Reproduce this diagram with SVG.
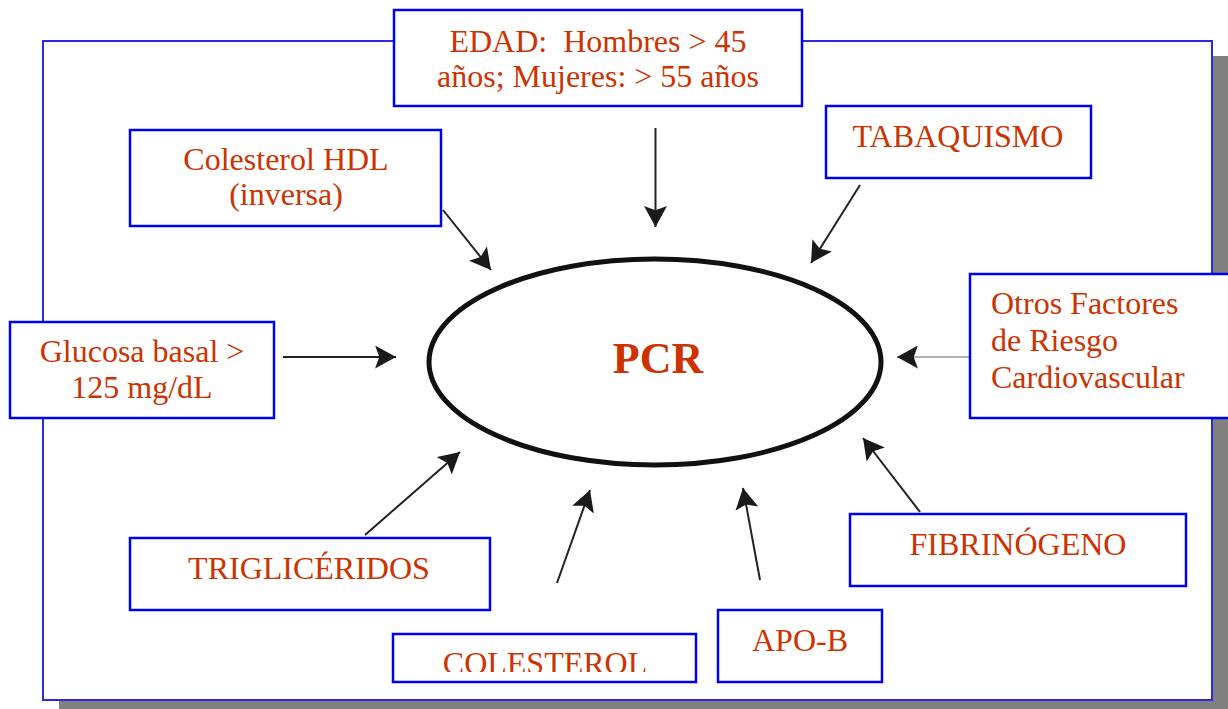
<svg xmlns="http://www.w3.org/2000/svg" width="1228" height="709" viewBox="0 0 1228 709">
<style>
.box{fill:#fff;stroke:#0000f0;stroke-width:2.5}
.t{font-family:"Liberation Serif","Times New Roman",serif;font-size:32px;fill:#cc3300;text-anchor:middle}
.l{text-anchor:start}
.arr{stroke:#222;stroke-width:2;fill:none;marker-end:url(#ah)}
</style>
<defs>
<marker id="ah" viewBox="0 0 20 22" refX="20" refY="11" markerWidth="21" markerHeight="23" markerUnits="userSpaceOnUse" orient="auto">
<path d="M0,0 L20,11 L0,22 L4,11 z" fill="#1a1a1a"/>
</marker>
<clipPath id="colclip"><rect x="393" y="634" width="303" height="38"/></clipPath>
</defs>
<rect width="1228" height="709" fill="#fff"/>
<g id="frame">
<rect x="59" y="56" width="1169" height="660" fill="#808080"/>
<rect x="43" y="41" width="1169" height="659" fill="#fff" stroke="#2a2ae0" stroke-width="2"/>
</g>
<g id="pcr">
<ellipse cx="655" cy="362" rx="226" ry="103" fill="none" stroke="#111" stroke-width="5"/>
<text x="658" y="373" class="t" style="font-size:44px;font-weight:bold">PCR</text>
</g>
<g id="connectors">
<line class="arr" x1="655.5" y1="128" x2="655.5" y2="227"/>
<line class="arr" x1="860" y1="185" x2="811" y2="263"/>
<line class="arr" x1="443" y1="210" x2="491" y2="270"/>
<line class="arr" x1="283" y1="357" x2="396" y2="357"/>
<line class="arr" x1="970" y1="357" x2="897" y2="357" style="stroke:#999;stroke-width:1.5"/>
<line class="arr" x1="365" y1="535" x2="460" y2="452"/>
<line class="arr" x1="557" y1="583" x2="590" y2="490"/>
<line class="arr" x1="760" y1="580" x2="743" y2="488"/>
<line class="arr" x1="920" y1="512" x2="863" y2="438"/>
</g>
<g id="edad">
<rect class="box" x="394" y="10" width="408" height="96"/>
<text class="t" x="598" y="52" xml:space="preserve">EDAD:  Hombres &gt; 45</text>
<text class="t" x="598" y="87">años; Mujeres: &gt; 55 años</text>
</g>
<g id="hdl">
<rect class="box" x="130" y="130" width="311" height="96"/>
<text class="t" x="286" y="170">Colesterol HDL</text>
<text class="t" x="286" y="205">(inversa)</text>
</g>
<g id="tabaquismo">
<rect class="box" x="826" y="106" width="265" height="72"/>
<text class="t" x="958" y="147">TABAQUISMO</text>
</g>
<g id="otros">
<rect class="box" x="970" y="274" width="280" height="144"/>
<text class="t l" x="991" y="314">Otros Factores</text>
<text class="t l" x="991" y="351">de Riesgo</text>
<text class="t l" x="991" y="388">Cardiovascular</text>
</g>
<g id="glucosa">
<rect class="box" x="10" y="322" width="264" height="96"/>
<text class="t" x="142" y="362">Glucosa basal &gt;</text>
<text class="t" x="142" y="398">125 mg/dL</text>
</g>
<g id="trigliceridos">
<rect class="box" x="130" y="538" width="360" height="72"/>
<text class="t" x="309" y="579">TRIGLICÉRIDOS</text>
</g>
<g id="colesterol">
<rect class="box" x="393" y="634" width="303" height="48"/>
<text class="t" x="545" y="674" clip-path="url(#colclip)">COLESTEROL</text>
</g>
<g id="apob">
<rect class="box" x="718" y="610" width="164" height="72"/>
<text class="t" x="800" y="651">APO-B</text>
</g>
<g id="fibrinogeno">
<rect class="box" x="850" y="514" width="336" height="72"/>
<text class="t" x="1018" y="555">FIBRINÓGENO</text>
</g>
</svg>
